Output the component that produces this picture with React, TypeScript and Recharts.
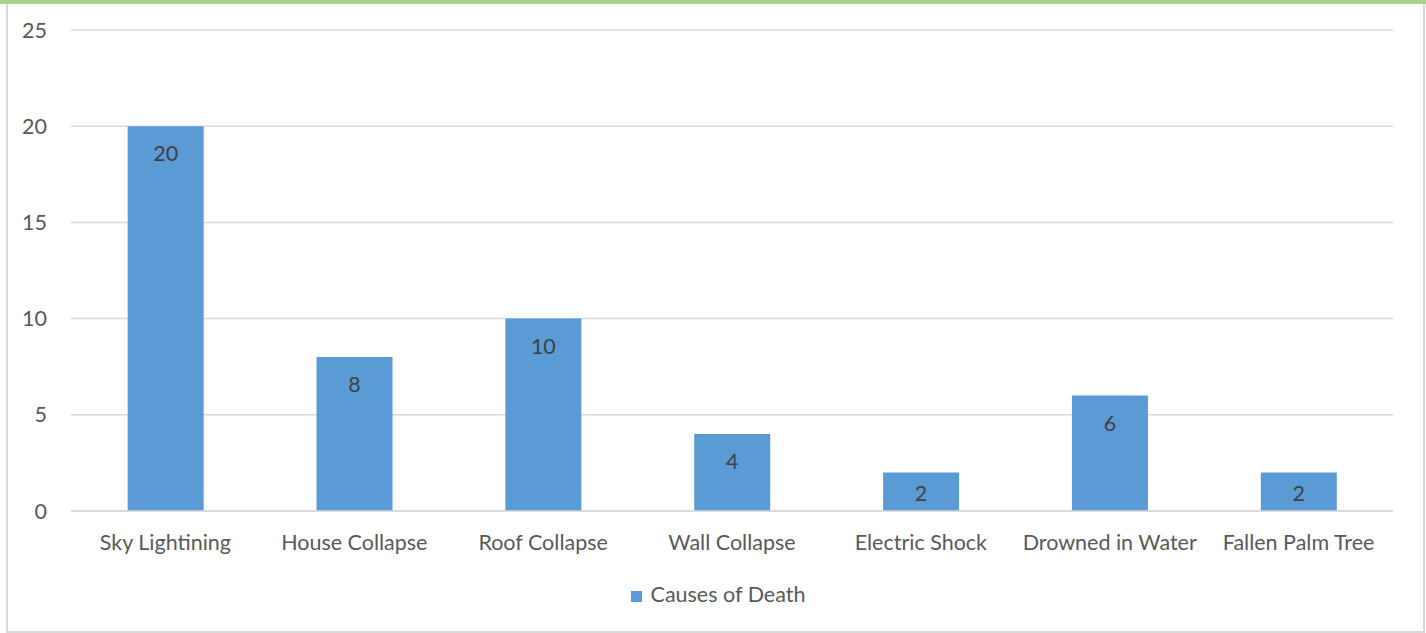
import React from 'react';
import { BarChart, Bar, XAxis, YAxis, CartesianGrid, Legend, LabelList } from 'recharts';

const categories = ['Sky Lightining', 'House Collapse', 'Roof Collapse', 'Wall Collapse', 'Electric Shock', 'Drowned in Water', 'Fallen Palm Tree'];
const deaths = [20, 8, 10, 4, 2, 6, 2];
const yTicks = [0, 5, 10, 15, 20, 25];

const data = categories.map((c, i) => ({ name: c, value: deaths[i] }));

const FONT = 'Lato, "Open Sans", sans-serif';

const renderLabel = (props: any) => {
  const { x, y, width, height, value } = props;
  const top = Number(y);
  const bottom = top + Number(height);
  const cy = Math.min(top + 27, bottom - 18);
  return (
    <text x={Number(x) + Number(width) / 2} y={cy} textAnchor="middle" dominantBaseline="central"
      fill="#404040" fontSize={21.5} fontFamily={FONT}>{value}</text>
  );
};

export default function App() {
  return (
    <div style={{ position: 'absolute', left: 0, top: 0, width: 1426, height: 633, background: '#fff', fontFamily: FONT }}>
      <div style={{ position: 'absolute', left: 0, top: 0, width: 1426, height: 4, background: '#a9d18e' }} />
      <div style={{ position: 'absolute', left: 6, top: 4, width: 1415, height: 627, borderLeft: '2px solid #d9d9d9', borderRight: '2px solid #d9d9d9', borderBottom: '2px solid #d9d9d9' }} />
      <div style={{ position: 'absolute', left: 0, top: 0 }}>
        <BarChart width={1426} height={633} data={data} margin={{ top: 30, right: 33, left: 11, bottom: 0 }} barCategoryGap="30%">
          <CartesianGrid vertical={false} stroke="#d9d9d9" strokeWidth={1.5} />
          <XAxis dataKey="name" axisLine={{ stroke: '#d9d9d9', strokeWidth: 1.5 }} tickLine={false} tickSize={0} tickMargin={24} height={70}
            tick={{ fill: '#595959', fontSize: 21.5, fontFamily: FONT }} interval={0} />
          <YAxis domain={[0, 25]} ticks={yTicks} axisLine={false} tickLine={false} tickSize={0} tickMargin={24} width={60}
            tick={{ fill: '#595959', fontSize: 21.5, fontFamily: FONT }} />
          <Legend verticalAlign="bottom" height={52} iconType="square" iconSize={11}
            wrapperStyle={{ fontFamily: FONT, fontSize: 21.5, left: 32 }}
            formatter={(v) => <span style={{ color: '#595959', marginLeft: 5 }}>{v}</span>} />
          <Bar dataKey="value" name="Causes of Death" fill="#5b9bd5" isAnimationActive={false}>
            <LabelList dataKey="value" content={renderLabel} />
          </Bar>
        </BarChart>
      </div>
    </div>
  );
}
